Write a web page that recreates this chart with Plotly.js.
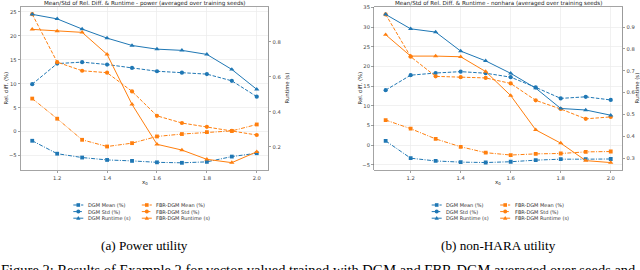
<!DOCTYPE html>
<html><head><meta charset="utf-8">
<script src="https://cdn.plot.ly/plotly-3.0.1.min.js"></script>
<style>html,body{margin:0;padding:0;background:#fff;overflow:hidden}#chart{width:640px;height:270px}</style>
</head><body><div id="chart"></div>
<script>
// ---------- data ----------
const x0 = [1.1, 1.2, 1.3, 1.4, 1.5, 1.6, 1.7, 1.8, 1.9, 2.0];

// power utility
const dgmMeanPower = [-1.9, -4.6, -5.4, -5.9, -6.1, -6.4, -6.5, -6.3, -5.2, -4.5];
const dgmStdPower  = [9.9, 14.2, 14.5, 14.0, 13.3, 12.6, 12.3, 12.0, 10.6, 7.3];
const dgmRunPower  = [0.957, 0.931, 0.873, 0.821, 0.779, 0.758, 0.751, 0.728, 0.642, 0.528];
const fbrMeanPower = [6.9, 2.7, -1.7, -3.1, -2.4, -1.0, -0.5, -0.1, 0.15, 1.5];
const fbrStdPower  = [24.5, 14.5, 12.7, 12.3, 8.4, 3.3, 1.8, 1.0, 0.15, -0.7];
const fbrRunPower  = [0.871, 0.861, 0.854, 0.728, 0.442, 0.214, 0.181, 0.128, 0.109, 0.171];

// non-HARA utility
const dgmMeanNon = [1.1, -3.3, -4.0, -4.3, -4.4, -4.2, -3.8, -3.55, -3.55, -3.5];
const dgmStdNon  = [14.0, 17.8, 18.35, 18.7, 18.3, 17.3, 14.7, 11.9, 12.3, 11.5];
const dgmRunNon  = [0.958, 0.892, 0.877, 0.790, 0.745, 0.688, 0.620, 0.527, 0.520, 0.496];
const fbrMeanNon = [6.4, 4.2, 1.6, -0.4, -1.9, -2.5, -2.2, -2.1, -1.7, -1.6];
const fbrStdNon  = [33.25, 22.5, 17.5, 17.3, 17.1, 15.7, 11.4, 9.2, 6.7, 7.2];
const fbrRunNon  = [0.865, 0.767, 0.767, 0.764, 0.696, 0.586, 0.429, 0.368, 0.288, 0.279];

// labels
const seriesNames = ['DGM Mean (%)', 'DGM Std (%)', 'DGM Runtime (s)',
                     'FBR-DGM Mean (%)', 'FBR-DGM Std (%)', 'FBR-DGM Runtime (s)'];
const xTickVals = [1.2, 1.4, 1.6, 1.8, 2.0];
const yTicksPower = [-5, 0, 5, 10, 15, 20, 25];
const rTicksPower = [0.2, 0.4, 0.6, 0.8, 1.0];
const yTicksNon = [-5, 0, 5, 10, 15, 20, 25, 30, 35];
const rTicksNon = [0.3, 0.4, 0.5, 0.6, 0.7, 0.8, 0.9];
const titlePower = 'Mean/Std of Rel. Diff. &amp; Runtime - power (averaged over training seeds)';
const titleNon = 'Mean/Std of Rel. Diff. &amp; Runtime - nonhara (averaged over training seeds)';
const captionA = '(a) Power utility';
const captionB = '(b) non-HARA utility';
const figCaption = 'Figure 2: Results of Example 2 for vector-valued trained with DGM and FBR-DGM averaged over seeds and';

// ---------- styles ----------
const W = 640, H = 270;
const BLUE = '#1f77b4', ORANGE = '#ff7f0e';
const DASH = '3.5px,1.6px';
const DASHDOT = '4px,1.4px,1px,1.4px';
const styles = [
  {color: BLUE, dash: DASHDOT, symbol: 'square', size: 3.8, right: false},
  {color: BLUE, dash: DASH, symbol: 'circle', size: 4.2, right: false},
  {color: BLUE, dash: 'solid', symbol: 'triangle-up', size: 4.6, right: true},
  {color: ORANGE, dash: DASHDOT, symbol: 'square', size: 3.8, right: false},
  {color: ORANGE, dash: DASH, symbol: 'circle', size: 4.2, right: false},
  {color: ORANGE, dash: 'solid', symbol: 'triangle-up', size: 4.6, right: true}
];

const px = v => v / W;
const py = v => 1 - v / H;

// plot boxes (pixels)
const boxes = [
  {l: 21, r: 268, t: 7, b: 170},
  {l: 374.4, r: 622, t: 7, b: 170}
];

const powerSeries = [dgmMeanPower, dgmStdPower, dgmRunPower, fbrMeanPower, fbrStdPower, fbrRunPower];
const nonSeries = [dgmMeanNon, dgmStdNon, dgmRunNon, fbrMeanNon, fbrStdNon, fbrRunNon];

const traces = [];
function addTraces(series, xa, yl, yr) {
  series.forEach((ys, i) => {
    const s = styles[i];
    traces.push({
      type: 'scatter', mode: 'lines+markers', name: seriesNames[i],
      x: x0, y: ys, xaxis: xa, yaxis: s.right ? yr : yl,
      line: {color: s.color, width: 1, dash: s.dash},
      marker: {symbol: s.symbol, size: s.size, color: s.color},
      hoverinfo: 'skip', showlegend: false
    });
  });
}
addTraces(powerSeries, 'x', 'y', 'y2');
addTraces(nonSeries, 'x2', 'y3', 'y4');

const tickFont = {family: 'DejaVu Sans', size: 5.2, color: '#444'};
const FRAME = '#9a9a9a', GRID = '#ebebeb';
function xAxis(box, anchor) {
  return {domain: [px(box.l), px(box.r)], anchor: anchor, range: [1.055, 2.045],
    tickvals: xTickVals, tickformat: '.1f', ticks: 'outside', ticklen: 2.5, tickwidth: 0.7,
    tickcolor: '#777', tickfont: tickFont, showline: true, mirror: true, linecolor: FRAME,
    linewidth: 0.9, showgrid: true, gridcolor: GRID, gridwidth: 0.7, zeroline: false, automargin: false};
}
function yAxis(box, anchor, range, tv) {
  return {domain: [py(box.b), py(box.t)], anchor: anchor, range: range, tickvals: tv,
    ticks: 'outside', ticklen: 2.5, tickwidth: 0.7, tickcolor: '#777', tickfont: tickFont,
    showline: true, mirror: true, linecolor: FRAME, linewidth: 0.9, showgrid: true,
    gridcolor: GRID, gridwidth: 0.7, zeroline: false, automargin: false};
}
function rAxis(over, anchor, range, tv) {
  return {overlaying: over, side: 'right', anchor: anchor, range: range, tickvals: tv,
    tickformat: '.1f', ticks: 'outside', ticklen: 2.5, tickwidth: 0.7, tickcolor: '#777',
    tickfont: tickFont, showline: true, linecolor: FRAME, linewidth: 0.9, showgrid: false,
    zeroline: false, automargin: false};
}

const annotations = [];
const shapes = [];
function txt(text, x, y, opts) {
  annotations.push(Object.assign({text: text, x: px(x), y: py(y), xref: 'paper', yref: 'paper',
    showarrow: false, xanchor: 'center', yanchor: 'middle',
    font: {family: 'DejaVu Sans', size: 5.3, color: '#222'}}, opts || {}));
}

[[boxes[0], titlePower, captionA, 6, 287, 73.3], [boxes[1], titleNon, captionB, 360, 637, 431.7]].forEach(([b, title, cap, ylx, yrx, legX]) => {
  const cx = (b.l + b.r) / 2, cy = (b.t + b.b) / 2;
  txt(title, cx, 3.2, {font: {family: 'DejaVu Sans', size: 5.6, color: '#222'}});
  txt('Rel. diff. (%)', ylx, cy, {textangle: -90});
  txt('Runtime (s)', yrx, cy, {textangle: -90});
  txt('x<sub>0</sub>', cx, 182.5, {font: {family: 'DejaVu Sans', size: 5.6, color: '#222'}});
  txt(cap, cx, 245, {font: {family: 'Liberation Serif', size: 13.2, color: '#000'}});
  // legend
  const rows = [205, 211.6, 218.2];
  for (let i = 0; i < 6; i++) {
    const s = styles[i];
    const lx = legX + (i >= 3 ? 68.5 : 0);
    const ly = rows[i % 3];
    shapes.push({type: 'line', xref: 'paper', yref: 'paper', x0: px(lx), x1: px(lx + 10),
      y0: py(ly), y1: py(ly), line: {color: s.color, width: 1, dash: s.dash}});
    const mx = lx + 5;
    if (s.symbol === 'square') {
      shapes.push({type: 'rect', xref: 'paper', yref: 'paper', x0: px(mx - 1.8), x1: px(mx + 1.8),
        y0: py(ly + 1.8), y1: py(ly - 1.8), fillcolor: s.color, line: {width: 0}});
    } else if (s.symbol === 'circle') {
      shapes.push({type: 'circle', xref: 'paper', yref: 'paper', x0: px(mx - 2), x1: px(mx + 2),
        y0: py(ly + 2), y1: py(ly - 2), fillcolor: s.color, line: {width: 0}});
    } else {
      shapes.push({type: 'path', xref: 'paper', yref: 'paper',
        path: `M ${px(mx)} ${py(ly - 2.2)} L ${px(mx + 2.2)} ${py(ly + 1.6)} L ${px(mx - 2.2)} ${py(ly + 1.6)} Z`,
        fillcolor: s.color, line: {width: 0}});
    }
    txt(seriesNames[i], lx + 12.5, ly, {xanchor: 'left', font: {family: 'DejaVu Sans', size: 5.0, color: '#333'}});
  }
});
txt(figCaption, -1, 260, {xanchor: 'left', yanchor: 'top', font: {family: 'Liberation Serif', size: 14.5, color: '#000'}});

const layout = {
  width: W, height: H, margin: {l: 0, r: 0, t: 0, b: 0, pad: 0},
  paper_bgcolor: '#fff', plot_bgcolor: '#fff', showlegend: false,
  font: {family: 'DejaVu Sans', size: 5.2, color: '#444'},
  xaxis: xAxis(boxes[0], 'y'),
  yaxis: yAxis(boxes[0], 'x', [-8.0, 26.0], yTicksPower),
  yaxis2: rAxis('y', 'x', [0.067, 0.999], rTicksPower),
  xaxis2: xAxis(boxes[1], 'y3'),
  yaxis3: yAxis(boxes[1], 'x2', [-6.3, 35.13], yTicksNon),
  yaxis4: rAxis('y3', 'x2', [0.245, 0.992], rTicksNon),
  annotations: annotations, shapes: shapes
};

Plotly.newPlot('chart', traces, layout, {staticPlot: true, displayModeBar: false});
</script></body></html>
